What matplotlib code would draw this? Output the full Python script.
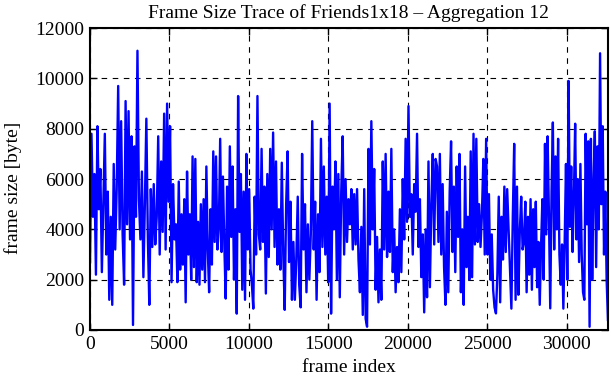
import numpy as np
import matplotlib.pyplot as plt

plt.rcParams['font.family'] = ['Liberation Serif', 'DejaVu Serif']

# frame size per segment of the trace (byte)
seg_bounds = [0, 5410, 10880, 16350, 21830, 27300, 32580]  # frame index
seg1 = [2700, 7800, 4500, 6200, 2200, 8100, 4800, 6400, 2300, 5000, 7800, 3000, 5500, 1200,
        4500, 1000, 6600, 3200, 5600, 9700, 4000, 8300, 3800, 1800, 9100, 4200, 8700, 3600,
        7700, 200, 7300, 4500, 11100, 5200, 3600, 6300, 2100, 5000, 8400, 3700, 1000, 5600,
        3300, 5800, 3400, 4500, 7700, 3000, 6700, 3900, 8600, 3200, 9000, 5100, 8100, 1900,
        5800, 3600]
seg2 = [4200, 1900, 5900, 2400, 4600, 2600, 5200, 1100, 6300, 3000, 4600, 2000, 6900, 2500,
        6800, 1900, 4300, 1800, 5000, 2400, 5200, 1900, 6500, 3200, 1500, 4800, 2600, 7100,
        3500, 6900, 3200, 4000, 7600, 3100, 6100, 3400, 1250, 5700, 2400, 7300, 3700, 6500,
        2000, 4800, 650, 9300, 3900, 6200, 1600, 5500, 1200, 7000, 3200, 5600, 2400, 1800,
        850, 5300, 3000, 9300, 3800, 3200, 7200]
seg3 = [3500, 5700, 1450, 6200, 2900, 7200, 4000, 7850, 3300, 6700, 2600, 4800, 2400, 6650,
        3000, 800, 5000, 7100, 2700, 5100, 1200, 3500, 1200, 2800, 5300, 1800, 900, 7000,
        3200, 5000, 1500, 4200, 2000, 3800, 8300, 3200, 5100, 1200, 4600, 2300, 7600, 3300,
        6500, 3000, 5300, 1900, 9000, 650, 5700, 4000, 6700, 2000, 6200, 1300, 5500, 7700,
        3000, 6000, 3500, 5200]
seg4 = [4200, 5600, 3200, 5400, 3400, 5600, 2800, 1500, 4100, 600, 5600, 450, 130, 7200,
        3400, 8300, 4000, 6400, 1600, 3700, 1100, 3200, 1200, 6700, 3200, 7000, 2900, 5500,
        3100, 7200, 2300, 4000, 1500, 3300, 1900, 4800, 2300, 6000, 3600, 7600, 4300, 8900,
        4500, 5400, 3000, 5800, 4700, 7800, 3300, 5200, 2100, 3800, 700, 4000, 1300, 6700,
        1700, 5000, 7000, 3400, 6800]
seg5 = [6500, 3500, 7000, 3000, 5800, 2500, 1000, 4700, 1500, 5500, 7500, 3100, 5700, 2300,
        6500, 3700, 7000, 1500, 4000, 1000, 6500, 2500, 4500, 2000, 7100, 2100, 7800, 3400,
        7600, 3500, 5000, 3300, 4600, 6800, 3000, 7600, 3000, 5400, 2000, 3800, 1600, 900,
        660, 2200, 5300, 1100, 4500, 2800, 5700, 3100, 5600, 4000, 2500, 850, 4500, 7400,
        1200, 5700, 1400, 3900, 5300, 3200]
seg6 = [3500, 5100, 1500, 4500, 2200, 5200, 1600, 4800, 2500, 5100, 1700, 3500, 1000, 3300,
        5200, 2000, 7400, 3800, 7700, 4600, 860, 5500, 8250, 3200, 6900, 4000, 7600, 3000,
        1800, 3400, 850, 3500, 6600, 2000, 9900, 4100, 6500, 3100, 5200, 8200, 3600, 6000,
        2700, 6600, 3000, 1500, 1200, 7800, 4200, 7500, 130, 7600, 2000, 5800, 7900, 2500,
        7300, 4000, 11000, 5000, 8100, 3000, 5500, 2000, 400]

segments = [seg1, seg2, seg3, seg4, seg5, seg6]
frames, sizes = [], []
for i, seg in enumerate(segments):
    f = np.linspace(seg_bounds[i], seg_bounds[i + 1], len(seg), endpoint=(i == len(segments) - 1))
    frames.extend(f)
    sizes.extend(seg)

fig = plt.figure(figsize=(6.11, 3.80), dpi=100)
ax = fig.add_axes([0.1473, 0.1316, 0.8477, 0.7944])
ax.plot(frames, sizes, color='#0000ff', lw=1.7)

ax.set_xlim(0, 32580)
ax.set_ylim(0, 12000)
ax.set_xticks(range(0, 30001, 5000))
ax.set_yticks(range(0, 12001, 2000))
ax.grid(True, color='black', linestyle=(0, (5, 5)), lw=0.8)
ax.tick_params(direction='in', top=True, right=True, labelsize=14, length=5, width=1, pad=4)
for s in ax.spines.values():
    s.set_linewidth(1.5)

fig.text(0.571, 0.966, 'Frame Size Trace of Friends1x18 – Aggregation 12',
         fontsize=14, ha='center', va='center')
ax.set_xlabel('frame index', fontsize=14, labelpad=5)
ax.set_ylabel('frame size [byte]', fontsize=14)
ax.yaxis.set_label_coords(-0.132, 0.47)

plt.savefig('out.png', dpi=100)
